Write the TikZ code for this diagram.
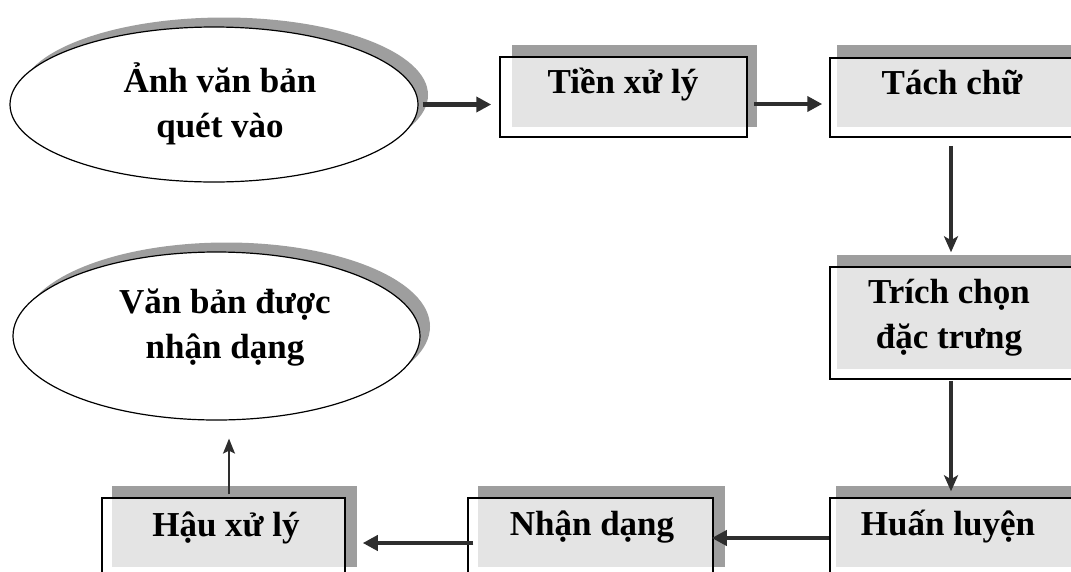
\documentclass[tikz,border=0pt]{standalone}
\usepackage{fontspec}
\setmainfont{Liberation Serif}
\usetikzlibrary{arrows.meta,shapes.geometric}
\definecolor{shadowgray}{HTML}{9E9E9E}
\definecolor{fillgray}{HTML}{E4E4E4}
\definecolor{arrowgray}{HTML}{2E2E2E}
\newcommand{\twolines}[2]{\begin{tabular}[t]{@{}c@{}}#1\\#2\end{tabular}}
\tikzset{
  lbl/.style={font=\fontsize{35}{45}\selectfont\bfseries, inner sep=0pt, anchor=base},
  outline/.style={draw=black, line width=1.5pt, rectangle, inner sep=0pt},
  ovalbox/.style={draw=black, fill=white, line width=1.2pt, ellipse, inner sep=0pt, minimum width=#1},
  ovalshadow/.style={fill=shadowgray},
  darkrect/.style={fill=shadowgray},
  lightrect/.style={fill=fillgray},
  harrow/.style={draw=arrowgray, line width=4.5pt, -{Triangle[length=15pt,width=15pt]}},
  varrow/.style={draw=arrowgray, line width=3.2pt, -{Stealth[length=16pt,width=14pt,inset=4pt]}},
  tarrow/.style={draw=arrowgray, line width=1.6pt, -{Stealth[length=15pt,width=12pt,inset=3pt]}}
}
\begin{document}
\begin{tikzpicture}[x=1pt,y=-1pt]
\useasboundingbox (0,0) rectangle (1071,571);
\clip (0,0) rectangle (1071,571);
% ellipse shadows
\fill[ovalshadow] (224,95) ellipse [x radius=204, y radius=77.5];
\fill[ovalshadow] (226.5,326.5) ellipse [x radius=203.5, y radius=84];
% ellipses
\node[ovalbox=408pt, minimum height=155pt] (e1) at (214,104.5) {};
\node[ovalbox=407pt, minimum height=168pt] (e2) at (216.5,336) {};
% box shadows and fills
\fill[darkrect] (512,45) rectangle (757,127);
\fill[lightrect] (512,57) rectangle (747,127);
\fill[darkrect] (837,45) rectangle (1080,127);
\fill[lightrect] (837,58) rectangle (1080,127);
\fill[darkrect] (837,255) rectangle (1080,369);
\fill[lightrect] (837,267) rectangle (1080,369);
\fill[darkrect] (836,486) rectangle (1080,567);
\fill[lightrect] (836,498) rectangle (1080,567);
\fill[darkrect] (478,486) rectangle (725,567);
\fill[lightrect] (478,498) rectangle (713,567);
\fill[darkrect] (112,486) rectangle (357,567);
\fill[lightrect] (112,498) rectangle (345,567);
% outlines
\node[outline, minimum width=247pt, minimum height=80pt] (tien) at (623.5,97) {};
\node[outline, minimum width=245pt, minimum height=79pt] (tach) at (952.5,97.5) {};
\node[outline, minimum width=245pt, minimum height=112pt] (trich) at (952.5,323) {};
\node[outline, minimum width=245pt, minimum height=102pt] (huan) at (952.5,549) {};
\node[outline, minimum width=245pt, minimum height=102pt] (nhan) at (590.5,549) {};
\node[outline, minimum width=243pt, minimum height=102pt] (hau) at (223.5,549) {};
% texts
\node[lbl] (te1) at (220,92) {\twolines{Ảnh văn bản}{quét vào}};
\node[lbl] (te2) at (225,313) {\twolines{Văn bản được}{nhận dạng}};
\node[lbl] (ttien) at (623,93) {Tiền xử lý};
\node[lbl] (ttach) at (952,94) {Tách chữ};
\node[lbl] (ttrich) at (949,303) {\twolines{Trích chọn}{đặc trưng}};
\node[lbl] (thuan) at (948,535) {Huấn luyện};
\node[lbl] (tnhan) at (592,535) {Nhận dạng};
\node[lbl] (thau) at (226,536) {Hậu xử lý};
% connectors
\draw[harrow, shorten <=4pt, shorten >=8pt] (e1.east) -- (e1.east -| tien.west);
\draw[harrow, shorten <=6pt, shorten >=7pt] ([yshift=-7pt]tien.east) -- ([yshift=-7pt]tien.east -| tach.west);
\draw[varrow, shorten <=8pt, shorten >=14pt] ([xshift=-1.5pt]tach.south) -- ([xshift=-1.5pt]trich.north);
\draw[varrow, shorten <=1pt, shorten >=6pt] ([xshift=-1.5pt]trich.south) -- ([xshift=-1.5pt]huan.north);
\draw[harrow, shorten >=-2pt] ([yshift=11pt]huan.west) -- ([yshift=11pt]huan.west -| nhan.east);
\draw[harrow, shorten <=-6pt, shorten >=17pt] ([yshift=6pt]nhan.west) -- ([yshift=6pt]nhan.west -| hau.east);
\draw[tarrow, shorten <=3pt, shorten >=18pt] ([xshift=5.5pt]hau.north) -- ([xshift=5.5pt]hau.north |- e2.south);
\end{tikzpicture}
\end{document}
